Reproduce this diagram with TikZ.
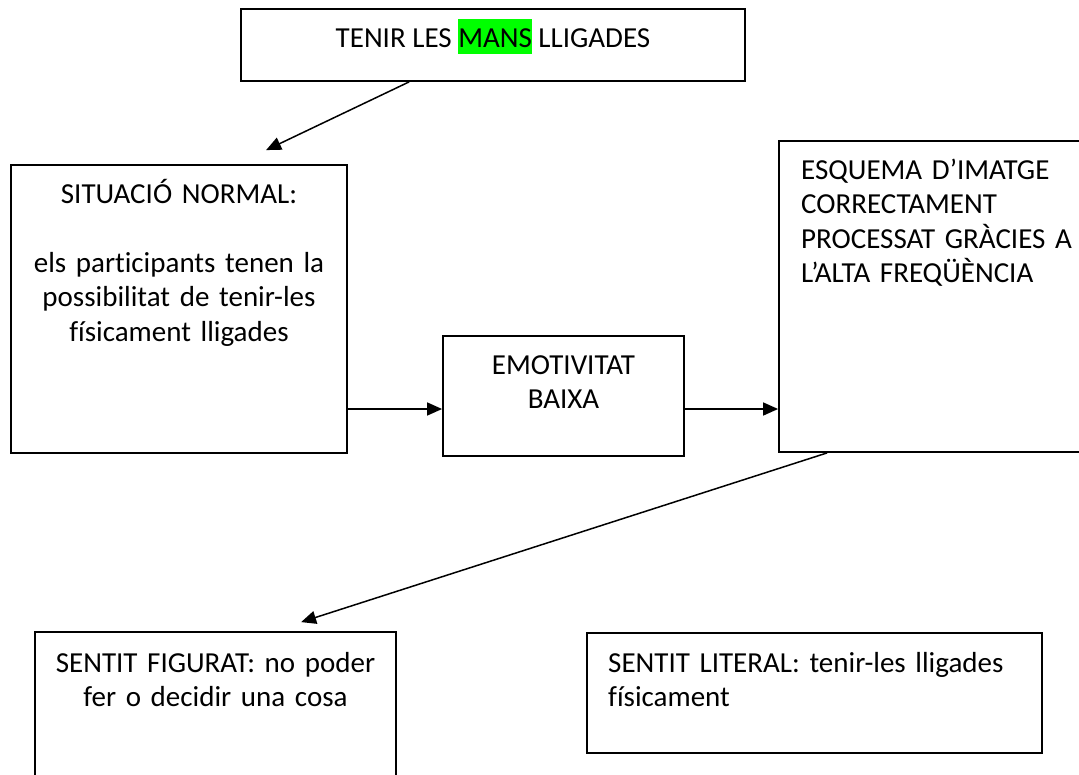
\documentclass[tikz,border=0pt]{standalone}
\usepackage{fontspec}
\setmainfont{Carlito}[Ligatures=NoCommon]
\usetikzlibrary{arrows.meta}
\definecolor{hlgreen}{RGB}{0,255,0}
\tikzset{
  box/.style={draw=black, line width=1.8pt, rectangle, inner sep=0pt, fill=white},
  txt/.style={font=\fontsize{29}{34.5}\selectfont\frenchspacing, inner sep=0pt},
  conn/.style={draw=black, line width=1.5pt, -{Triangle[length=15pt,width=13pt]}},
}
\begin{document}
\begin{tikzpicture}[x=1pt,y=-1pt]
\useasboundingbox (0,0) rectangle (1079,774);
\clip (0,0) rectangle (1079,774);
\fill[white] (0,0) rectangle (1079,774);

% boxes
\node[box, minimum width=504pt, minimum height=72pt]  (top) at (493,45) {};
\node[box, minimum width=336pt, minimum height=288pt] (sit) at (179,309) {};
\node[box, minimum width=241pt, minimum height=120pt] (emo) at (563.5,396) {};
\node[box, minimum width=321pt, minimum height=311pt] (esq) at (939.5,296.5) {};
\node[box, minimum width=361pt, minimum height=168pt] (fig) at (215.5,716) {};
\node[box, minimum width=455pt, minimum height=120pt] (lit) at (814.5,693) {};

% texts
\node[txt, anchor=base] (toptxt) at (493,47)
  {TENIR LES {\fboxsep=0pt\colorbox{hlgreen}{\rule[-7pt]{0pt}{35pt}MANS}} LLIGADES};
\node[txt, anchor=base, text width=330pt, align=center] (sittxt) at (179,203)
  {SITUACIÓ NORMAL:\\[34.5pt]els participants tenen la\\possibilitat de tenir-les\\físicament lligades};
\node[txt, anchor=base, text width=230pt, align=center] (emotxt) at (563.5,374)
  {EMOTIVITAT\\BAIXA};
\node[txt, anchor=base west, text width=275pt, align=left] (esqtxt) at (801,179)
  {ESQUEMA D’IMATGE\\CORRECTAMENT\\PROCESSAT GRÀCIES A\\L’ALTA FREQÜÈNCIA};
\node[txt, anchor=base, text width=350pt, align=center] (figtxt) at (215.5,672)
  {SENTIT FIGURAT: no poder\\fer o decidir una cosa};
\node[txt, anchor=base west, text width=420pt, align=left] (littxt) at (608,672)
  {SENTIT LITERAL: tenir-les lligades\\físicament};

% connectors
\coordinate (s1) at ([xshift=169pt]top.south west);
\coordinate (e1) at ([xshift=256pt,yshift=14pt]sit.north west);
\draw[conn] (s1) -- (e1);
\coordinate (s2) at ([yshift=-100pt]sit.east);
\draw[conn] (s2) -- (s2 -| emo.west);
\coordinate (s3) at ([yshift=-13pt]emo.east);
\draw[conn] (s3) -- (s3 -| esq.west);
\coordinate (s4) at ([xshift=49pt]esq.south west);
\coordinate (e4) at ([xshift=267pt,yshift=9pt]fig.north west);
\draw[conn] (s4) -- (e4);
\end{tikzpicture}
\end{document}
